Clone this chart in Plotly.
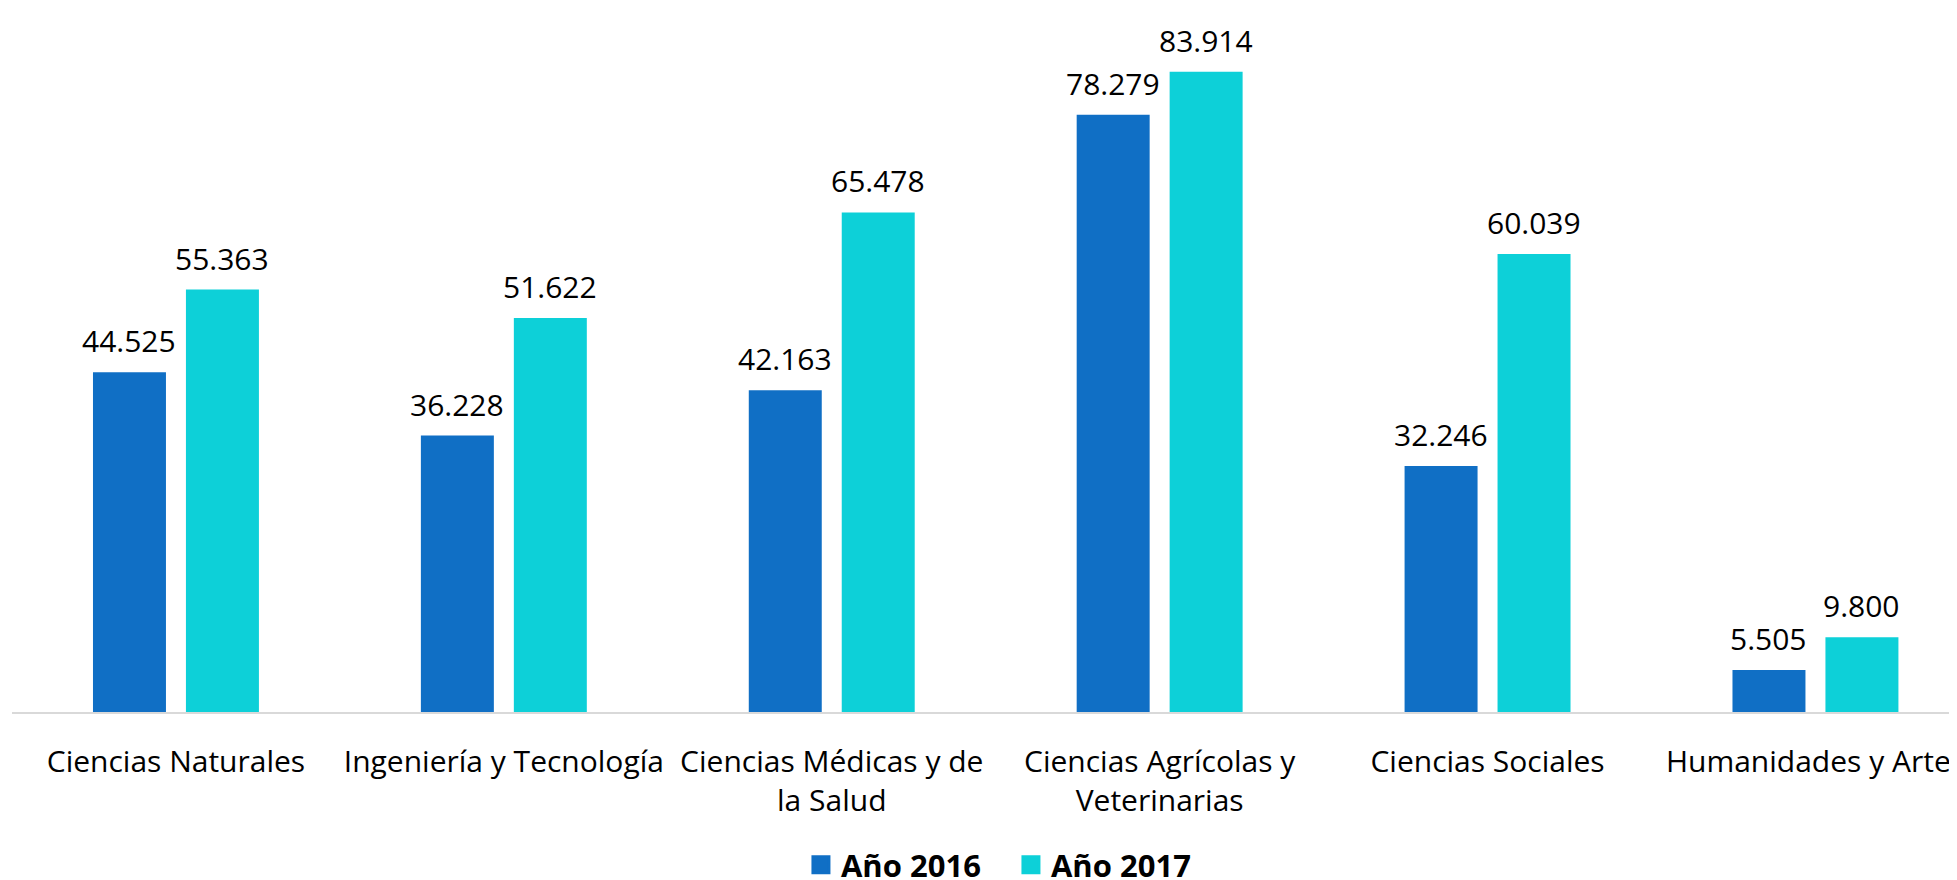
import plotly.graph_objects as go

categories = [
    "Ciencias Naturales",
    "Ingeniería y Tecnología",
    "Ciencias Médicas y de<br>la Salud",
    "Ciencias Agrícolas y<br>Veterinarias",
    "Ciencias Sociales",
    "Humanidades y Artes",
]
values_2016 = [44.525, 36.228, 42.163, 78.279, 32.246, 5.505]
values_2017 = [55.363, 51.622, 65.478, 83.914, 60.039, 9.800]
series_names = ["Año 2016", "Año 2017"]

COLOR_2016 = "#106FC5"
COLOR_2017 = "#0DD0D8"
FONT = "Open Sans"
FS = 30

fig = go.Figure()
for name, vals, col in [(series_names[0], values_2016, COLOR_2016),
                        (series_names[1], values_2017, COLOR_2017)]:
    fig.add_trace(go.Bar(x=categories, y=vals, name=name, marker_color=col,
                         marker_line_width=0, showlegend=False))
    # legend proxy with bigger square
    fig.add_trace(go.Scatter(x=[None], y=[None], mode="markers", name=name,
                             marker=dict(symbol="square", size=16, color=col,
                                         line=dict(color=col, width=3))))

def fmt(v):
    return f"{v:.3f}"

SHIFT = 46.5
for vals, xs in [(values_2016, -SHIFT), (values_2017, SHIFT)]:
    for c, v in zip(categories, vals):
        fig.add_annotation(x=c, y=v, text=fmt(v), showarrow=False,
                           xshift=xs, yshift=9, yanchor="bottom",
                           font=dict(family=FONT, size=FS, color="#000000"))

# the page body has an 8px margin, so the figure is sized to fit inside it
FIG_W, FIG_H = 1949, 872
plot_left = 4
plot_bottom = 704
cat_w = 327.9
plot_w = FIG_W - plot_left
px_per_unit = 7.63
fig.update_layout(
    width=FIG_W, height=FIG_H,
    margin=dict(l=plot_left, r=0, t=0, b=FIG_H - plot_bottom, autoexpand=False),
    paper_bgcolor="white", plot_bgcolor="white",
    barmode="group", bargap=0.433, bargroupgap=0.215,
    font=dict(family=FONT, size=FS, color="#000000"),
    xaxis=dict(range=[-0.5, -0.5 + plot_w / cat_w], showgrid=False,
               showline=True, linecolor="#D9D9D9", linewidth=2,
               ticks="", ticklabelstandoff=22,
               tickfont=dict(family=FONT, size=FS, color="#000000"),
               fixedrange=True),
    yaxis=dict(range=[0, plot_bottom / px_per_unit], visible=False,
               showgrid=False, zeroline=False),
    legend=dict(orientation="h", x=0.5136, xanchor="center",
                y=(plot_bottom - 857) / plot_bottom,
                yanchor="middle", entrywidth=165,
                font=dict(family=FONT, size=31, color="#000000", weight="bold"),
                itemclick=False),
)

fig.write_html("out.html")
